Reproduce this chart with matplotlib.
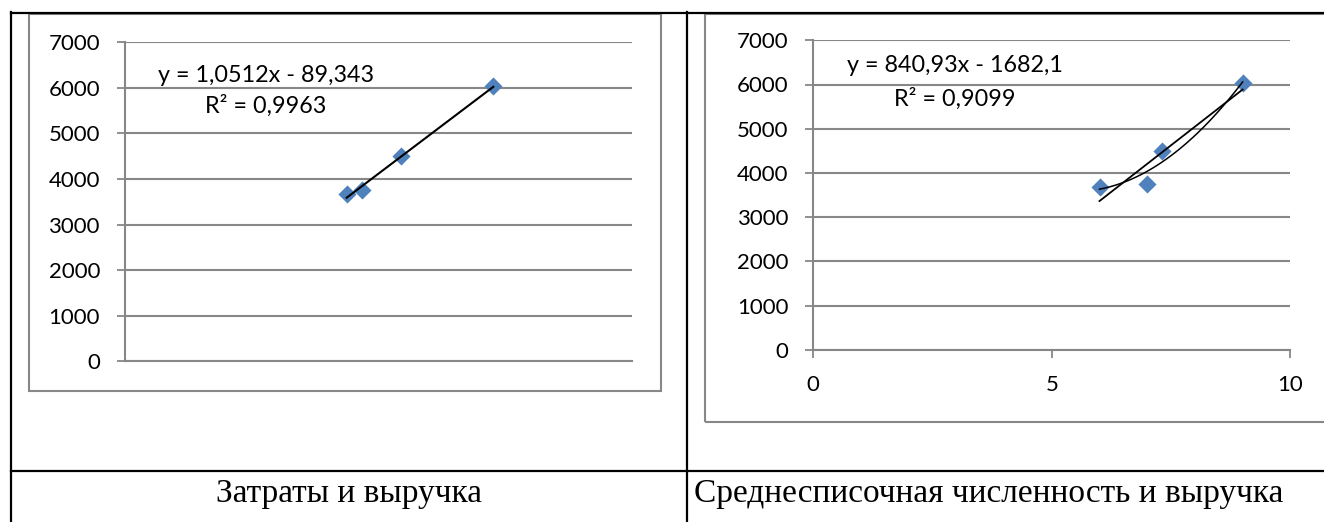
import numpy as np
import matplotlib.pyplot as plt
from matplotlib.lines import Line2D
from matplotlib.patches import Rectangle

# data
costs = [3500, 3735, 4355, 5815]          # затраты
staff = [6, 7, 7.3, 9]                    # среднесписочная численность
revenue = [3676, 3751, 4496, 6041]        # выручка

# trendline coefficients as printed on the charts
lin_costs = [1.0512, -89.343]
lin_staff = [840.93, -1682.1]
eq_costs = ["y = 1,0512x - 89,343", "R² = 0,9963"]
eq_staff = ["y = 840,93x - 1682,1", "R² = 0,9099"]

captions = ["Затраты и выручка", "Среднесписочная численность и выручка"]
y_ticks = [0, 1000, 2000, 3000, 4000, 5000, 6000, 7000]
x_ticks_staff = [0, 5, 10]

plt.rcParams['font.family'] = ['Lato', 'DejaVu Sans']

W, H = 1324, 522
GREY = '#878787'
BLUE = '#4f81bd'

fig = plt.figure(figsize=(W / 100, H / 100), dpi=100)


def box(x0, y0, x1, y1):
    return [x0 / W, 1 - y1 / H, (x1 - x0) / W, (y1 - y0) / H]


def fx(x):
    return x / W


def fy(y):
    return 1 - y / H


# table borders
for xs, ys in [([11, W], [12.5, 12.5]), ([11, 11], [12, H]),
               ([687, 687], [12, H]), ([11, W], [471, 471])]:
    fig.add_artist(Line2D([fx(v) for v in xs], [fy(v) for v in ys],
                          transform=fig.transFigure, color='black', lw=1.6))

# chart area frames
for x0, y0, x1, y1 in [(29, 13.5, 661, 390.5), (705, 13.5, 1340, 422)]:
    fig.add_artist(Rectangle((fx(x0), fy(y1)), (x1 - x0) / W, (y1 - y0) / H,
                             transform=fig.transFigure, fill=False,
                             edgecolor=GREY, lw=1.5))

ax1 = fig.add_axes(box(125, 42.3, 631.7, 361.3))
ax2 = fig.add_axes(box(813.3, 40.3, 1290.3, 349.7))

for ax in (ax1, ax2):
    ax.set_facecolor('none')
    ax.set_ylim(0, 7000)
    ax.set_yticks(y_ticks)
    ax.yaxis.grid(True, color=GREY, lw=1.5)
    ax.set_axisbelow(True)
    for s in ('top', 'right'):
        ax.spines[s].set_visible(False)
    for s in ('left', 'bottom'):
        ax.spines[s].set_color(GREY)
        ax.spines[s].set_linewidth(1.5)
    ax.tick_params(axis='y', length=6, width=1.3, color=GREY, pad=12,
                   labelsize=16)

# left chart: costs vs revenue
ax1.set_xlim(0, 8000)
ax1.set_xticks([])
ax1.scatter(costs, revenue, marker='D', s=85, color=BLUE, zorder=3,
            linewidths=0)
xl = np.array([min(costs), max(costs)])
ax1.plot(xl, lin_costs[0] * xl + lin_costs[1], color='black', lw=1.5, zorder=4)

# right chart: staff vs revenue
ax2.set_xlim(0, 10)
ax2.set_xticks(x_ticks_staff)
ax2.tick_params(axis='x', length=6, width=1.3, color=GREY, pad=12,
                labelsize=16)
ax2.scatter(staff, revenue, marker='D', s=85, color=BLUE, zorder=3,
            linewidths=0)
xs = np.array([min(staff), max(staff)])
ax2.plot(xs, lin_staff[0] * xs + lin_staff[1], color='black', lw=1.3, zorder=4)
quad = np.polyfit(staff, revenue, 2)
xq = np.linspace(min(staff), max(staff), 100)
ax2.plot(xq, np.polyval(quad, xq), color='black', lw=1.1, zorder=4)

# trendline labels
fig.text(fx(266), fy(75), eq_costs[0], ha='center', va='center', fontsize=16.8)
fig.text(fx(266), fy(106), eq_costs[1], ha='center', va='center', fontsize=16.8)
fig.text(fx(955), fy(66), eq_staff[0], ha='center', va='center', fontsize=16.8)
fig.text(fx(955), fy(99), eq_staff[1], ha='center', va='center', fontsize=16.8)

# captions
fig.text(fx(349), fy(494), captions[0], ha='center', va='center',
         fontsize=24, family='Liberation Serif')
fig.text(fx(694), fy(494), captions[1], ha='left', va='center',
         fontsize=24, family='Liberation Serif')

fig.savefig('out.png', dpi=100)
